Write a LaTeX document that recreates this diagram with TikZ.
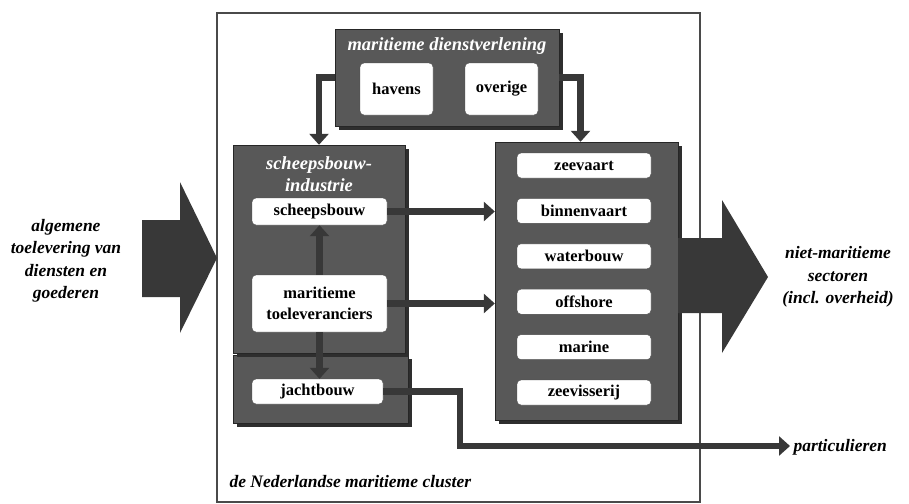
\documentclass[tikz,border=0pt]{standalone}
\usepackage{fontspec}
\setmainfont{Liberation Serif}
\usetikzlibrary{arrows.meta,positioning,calc,shadows}

\definecolor{paneel}{HTML}{585858}
\definecolor{schaduw}{HTML}{2E2E2E}
\definecolor{pijl}{HTML}{383838}
\definecolor{kader}{HTML}{4A4A4A}

\begin{document}
\begin{tikzpicture}[x=1pt,y=-1pt,
  panel/.style={rectangle,draw=black!85,fill=paneel,inner sep=0pt,
    drop shadow={shadow xshift=4pt,shadow yshift=-4pt,fill=schaduw,opacity=1}},
  item/.style={rectangle,rounded corners=4pt,draw=black!70,fill=white,inner sep=0pt,
    font=\fontsize{16.5}{20}\selectfont\bfseries,align=center,
    minimum width=134pt,minimum height=25pt},
  kop/.style={white,font=\fontsize{18.5}{22}\selectfont\bfseries\itshape,align=center},
  sidetext/.style={font=\fontsize{17.5}{22.5}\selectfont\bfseries\itshape,align=center},
  flow/.style={draw=pijl,line width=6.5pt,-{Triangle[width=19pt,length=11pt]}}]

  \useasboundingbox (0,0) rectangle (909,503);

  % the cluster frame
  \draw[kader,line width=1.5pt] (217,13) rectangle (700,502);
  \node[sidetext,anchor=west] (cluster) at (226,482) {de Nederlandse maritieme cluster};

  % maritieme dienstverlening
  \node[panel,minimum width=224pt,minimum height=97pt] (dienst) at (447,77.5) {};
  \node[kop] (dtitel) at (447,46) {maritieme dienstverlening};
  \node[item,minimum width=73pt,minimum height=52pt] (havens) at (396.5,89) {havens};
  \node[item,minimum width=73pt,minimum height=52pt] (overige) at (501.5,89) {overige};

  % scheepsbouwindustrie
  \node[panel,minimum width=175pt,minimum height=68pt] (jbox) at (320.5,389) {};
  \node[panel,minimum width=172pt,minimum height=208pt] (sbi) at (319,249) {};
  \node[kop] (stitel) at (319,174) {scheepsbouw-\\industrie};
  \node[item,minimum width=135pt,minimum height=27pt] (scheeps) at (319.5,211.5) {scheepsbouw};
  \node[item,minimum width=135pt,minimum height=57pt,
    font=\fontsize{16.5}{21}\selectfont\bfseries] (toelev) at (319.5,303.5) {maritieme\\toeleveranciers};
  \node[item,minimum width=131pt] (jacht) at (317.5,391.5) {jachtbouw};

  % maritieme sectoren
  \node[panel,minimum width=183pt,minimum height=278pt] (sect) at (586.5,281) {};
  \node[item] (zeevaart) at (584,165.5) {zeevaart};
  \node[item,below=20pt of zeevaart] (binnen) {binnenvaart};
  \node[item,below=20pt of binnen] (water) {waterbouw};
  \node[item,below=20pt of water] (offshore) {offshore};
  \node[item,below=20pt of offshore] (marine) {marine};
  \node[item,below=20pt of marine] (visserij) {zeevisserij};

  % in- en uitgaande stromen
  \fill[pijl] (142,220) -- (180,220) -- (180,182) -- (217,258) -- (180,333) -- (180,297) -- (142,297) -- cycle;
  \fill[pijl] (678,238) -- (722,238) -- (722,200) -- (768,277) -- (722,353) -- (722,313) -- (678,313) -- cycle;
  \node[sidetext] (toelevering) at (66,261) {algemene\\toelevering van\\diensten en\\goederen};
  \node[sidetext] (nietmar) at (838,277) {niet-maritieme\\sectoren\\(incl. overheid)};
  \node[sidetext,anchor=west] (partic) at (790,447) {particulieren};

  % connectors
  \draw[flow] (dienst.west) -| (sbi.north);
  \draw[flow] (dienst.east) -| ([xshift=-6pt]sect.north);
  \draw[flow] (toelev) -- (scheeps);
  \draw[flow] (toelev.south) -- (toelev.south |- jacht.north);
  \draw[flow] (scheeps.east) -- (scheeps.east -| sect.west);
  \draw[flow] (toelev.east) -- (toelev.east -| sect.west);
  \coordinate (knik) at (460,446);
  \draw[flow] (jacht.east) -| (knik) -- (knik -| partic.west);
\end{tikzpicture}
\end{document}
